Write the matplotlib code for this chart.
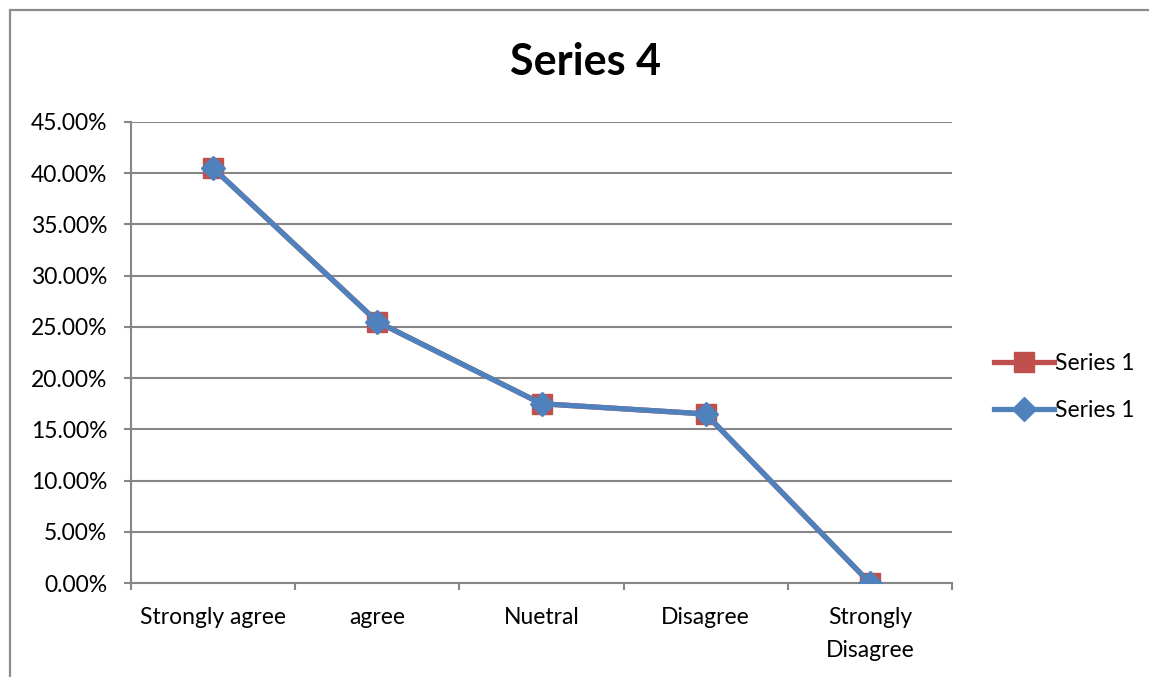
import matplotlib.pyplot as plt
from matplotlib.patches import Rectangle
from matplotlib.ticker import FuncFormatter

categories = ["Strongly agree", "agree", "Nuetral", "Disagree", "Strongly\nDisagree"]
series_a = [40.5, 25.5, 17.5, 16.5, 0.0]
series_b = [40.5, 25.5, 17.5, 16.5, 0.0]
series_names = ["Series 1", "Series 1"]
title = "Series 4"

plt.rcParams['font.family'] = ['Lato', 'DejaVu Sans']

W, H = 1149, 677
fig = plt.figure(figsize=(W / 100, H / 100), dpi=100)
ax = fig.add_axes([131 / W, 1 - 583 / H, (952 - 131) / W, (583 - 122) / H])

grey = "#868686"
fs = 16.5

# chart area border (runs off the right and bottom edges)
fig.patches.append(Rectangle((10 / W, -0.05), 1.2, 1 - 10 / H + 0.05,
                             transform=fig.transFigure, fill=False,
                             edgecolor="#8c8c8c", linewidth=1.6))

x = range(len(categories))
ax.plot(x, series_a, color="#C0504D", lw=3.8, marker="s", ms=14.5,
        label=series_names[0], zorder=3)
ax.plot(x, series_b, color="#4F81BD", lw=3.8, marker="D", ms=12,
        label=series_names[1], zorder=4)

ax.set_xlim(-0.5, len(categories) - 0.5)
ax.set_ylim(0, 45)
ax.set_yticks(range(0, 46, 5))
ax.yaxis.set_major_formatter(FuncFormatter(lambda v, p: f"{v:.2f}%"))
ax.set_xticks(list(x))
ax.set_xticklabels(categories, fontsize=fs, linespacing=1.7, va="top")
ax.set_xticks([i - 0.5 for i in range(len(categories) + 1)], minor=True)
ax.tick_params(axis="x", which="major", length=0, pad=17)
ax.tick_params(axis="x", which="minor", length=5, width=1.5, color=grey)
ax.tick_params(axis="y", length=5, width=1.5, color=grey, pad=12, labelsize=fs)

ax.grid(axis="y", color=grey, linewidth=1.5)
ax.set_axisbelow(True)
for s in ["top", "right"]:
    ax.spines[s].set_visible(False)
for s in ["left", "bottom"]:
    ax.spines[s].set_color(grey)
    ax.spines[s].set_linewidth(1.5)
    ax.spines[s].set_zorder(2)

fig.text(585 / W, 1 - 62 / H, title, ha="center", va="center",
         fontsize=31, fontweight="bold")

fig.legend(loc="center left", bbox_to_anchor=(985 / W, 1 - 387 / H),
           frameon=False, fontsize=fs, handlelength=2.6, handletextpad=0.05,
           labelspacing=1.15, borderaxespad=0)

fig.savefig("out.png", dpi=100)
